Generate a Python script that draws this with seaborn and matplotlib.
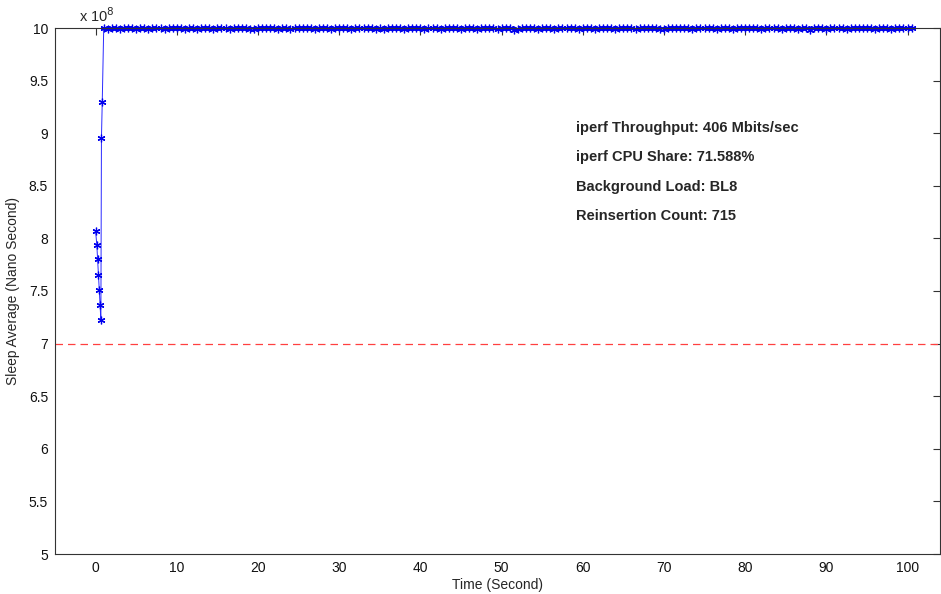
import numpy as np
import pandas as pd
import matplotlib
matplotlib.use("Agg")
import matplotlib.pyplot as plt
import seaborn as sns

# start-up transient (time in s, sleep average in units of 1e8 ns)
ramp_time = [0.0, 0.15, 0.25, 0.35, 0.45, 0.55, 0.65, 0.72, 0.82]
ramp_value = [8.07, 7.94, 7.80, 7.65, 7.51, 7.37, 7.22, 8.95, 9.30]

# steady state, one sample every 0.5 s from 1.0 s to 100.5 s
steady_value = [
    10.0, 9.995, 10.0, 9.997, 9.990, 10.0, 9.996, 9.999, 9.993, 10.0,
    9.998, 9.994, 10.0, 9.997, 9.999, 9.992, 10.0, 9.996, 9.998, 9.999,
    9.995, 10.0, 9.997, 9.986, 9.996, 10.0, 9.998, 9.994, 9.999, 10.0,
    9.996, 9.993, 9.998, 10.0, 9.997, 9.999, 9.995, 9.990, 10.0, 9.998,
    9.996, 10.0, 9.999, 9.994, 9.997, 10.0, 9.992, 9.998, 9.999, 9.996,
    10.0, 9.997, 9.995, 9.999, 10.0, 9.998, 9.993, 9.996, 10.0, 9.999,
    9.997, 9.994, 10.0, 9.998, 9.996, 9.999, 10.0, 9.995, 9.997, 9.991,
    10.0, 9.998, 9.996, 9.999, 9.994, 10.0, 9.997, 9.998, 10.0, 9.995,
    9.999, 9.996, 10.0, 9.993, 9.998, 9.997, 10.0, 9.999, 9.995, 9.996,
    10.0, 9.998, 9.992, 9.999, 10.0, 9.997, 9.996, 9.994, 10.0, 9.998,
    9.999, 9.983, 9.990, 9.997, 10.0, 9.996, 9.998, 9.995, 10.0, 9.999,
    9.997, 9.993, 10.0, 9.998, 9.996, 9.999, 10.0, 9.994, 9.997, 9.998,
    10.0, 9.995, 9.999, 9.996, 10.0, 9.997, 9.991, 9.998, 10.0, 9.999,
    9.996, 9.994, 10.0, 9.998, 9.997, 9.999, 10.0, 9.995, 9.993, 9.998,
    10.0, 9.996, 9.999, 9.997, 10.0, 9.994, 9.998, 9.999, 9.996, 10.0,
    9.997, 9.995, 10.0, 9.998, 9.999, 9.992, 10.0, 9.996, 9.998, 9.997,
    10.0, 9.999, 9.994, 9.996, 10.0, 9.998, 9.997, 9.995, 10.0, 9.999,
    9.996, 9.993, 10.0, 9.998, 9.985, 9.997, 9.999, 10.0, 9.995, 9.998,
    10.0, 9.996, 9.999, 9.994, 9.997, 10.0, 9.998, 9.996, 9.999, 10.0,
    9.995, 9.997, 10.0, 9.998, 9.993, 9.999, 10.0, 9.996, 9.998, 9.997,
]
steady_time = np.arange(len(steady_value)) * 0.5 + 1.0

threshold = 7.0
x_ticks = [0, 10, 20, 30, 40, 50, 60, 70, 80, 90, 100]
y_ticks = [5, 5.5, 6, 6.5, 7, 7.5, 8, 8.5, 9, 9.5, 10]
y_tick_labels = ["5", "5.5", "6", "6.5", "7", "7.5", "8", "8.5", "9", "9.5", "10"]
info_lines = [
    "iperf Throughput: 406 Mbits/sec",
    "iperf CPU Share: 71.588%",
    "Background Load: BL8",
    "Reinsertion Count: 715",
]

df = pd.DataFrame({
    "time": list(ramp_time) + list(steady_time),
    "sleep": list(ramp_value) + list(steady_value),
})

sns.set_style("white")
plt.rcParams["font.family"] = ["Liberation Sans", "DejaVu Sans"]

fig = plt.figure(figsize=(9.41, 5.94), dpi=100)
ax = fig.add_axes([55 / 941, 40 / 594, 885 / 941, 526 / 594])

sns.lineplot(data=df, x="time", y="sleep", sort=False, estimator=None,
             color="#2a2aff", linewidth=0.7, marker=(6, 2, 0), markersize=5.5,
             markeredgecolor="#0000ee", markeredgewidth=0.9, ax=ax)
for ln in ax.lines:
    ln.set_clip_on(False)
ax.axhline(threshold, color="#ff4040", linewidth=0.9, linestyle=(0, (6, 4)))

ax.set_xlim(-5, 104)
ax.set_ylim(5, 10)
ax.set_xticks(x_ticks)
ax.set_yticks(y_ticks)
ax.set_yticklabels(y_tick_labels)
ax.tick_params(direction="in", length=5, width=0.8, color="#333333",
               top=True, right=True, labelsize=10, labelcolor="#111111", pad=5)
for s in ax.spines.values():
    s.set_color("#333333")
    s.set_linewidth(0.8)

ax.set_xlabel("Time (Second)", fontsize=10, labelpad=2)
ax.set_ylabel("Sleep Average (Nano Second)", fontsize=10, labelpad=6)
ax.text(0.027, 1.006, "x 10$^{8}$", transform=ax.transAxes, fontsize=10.5,
        va="bottom", ha="left")

for i, line in enumerate(info_lines):
    ax.text(59.2, 9.05 - i * 0.279, line, fontsize=10.5, fontweight="bold",
            va="center", ha="left")

fig.savefig("out.png", dpi=100)
